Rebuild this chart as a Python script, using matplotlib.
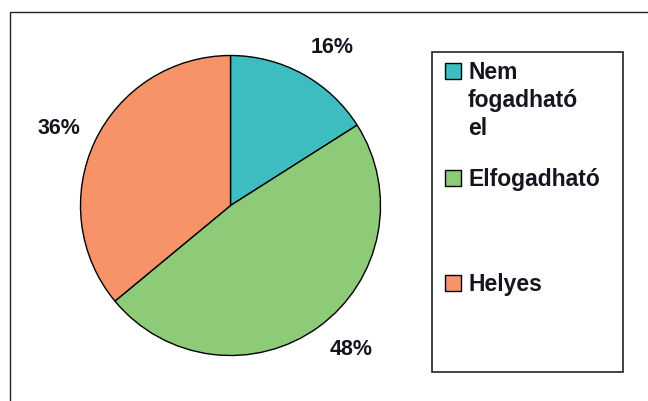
import numpy as np
import matplotlib
matplotlib.use("Agg")
import matplotlib.pyplot as plt
from matplotlib.patches import Rectangle

plt.rcParams['font.family'] = ['Liberation Sans', 'DejaVu Sans']

# megoszlás
labels = ['Nem\nfogadható\nel', 'Elfogadható', 'Helyes']
values = [16, 48, 36]
colors = ['#3dbdc0', '#8dcb78', '#f69368']

W, H = 648, 401
fig = plt.figure(figsize=(W / 100, H / 100), dpi=100)

# keret
fig.patches.append(Rectangle((10 / W, -0.1), 1.2, 1.1 - 12 / H,
                             transform=fig.transFigure, fill=False,
                             edgecolor='#222222', linewidth=1.0))

# kördiagram
r = 150
cx, cy = 230.5, 205.5
ax = fig.add_axes([(cx - r) / W, (H - cy - r) / H, 2 * r / W, 2 * r / H])
wedges, texts, autotexts = ax.pie(
    values, colors=colors, startangle=90, counterclock=False,
    autopct='%1.0f%%', pctdistance=1.25,
    wedgeprops=dict(edgecolor='black', linewidth=1.0),
    textprops=dict(fontsize=15.5, fontweight='bold', color='#151520'))
# címkék kicsit elforgatva a szelet közepéhez képest
shift = [-4, 4, 1]
for w, t, d in zip(wedges, autotexts, shift):
    a = np.deg2rad((w.theta1 + w.theta2) / 2 + d)
    t.set_position((1.255 * np.cos(a), 1.255 * np.sin(a)))
    t.set_va('center')
ax.set_xlim(-1, 1)
ax.set_ylim(-1, 1)
ax.set_aspect('auto')
ax.axis('off')

# jelmagyarázat
fig.patches.append(Rectangle((432 / W, 1 - 372 / H), (623 - 432) / W, (372 - 52) / H,
                             transform=fig.transFigure, fill=False,
                             edgecolor='#222222', linewidth=1.2))
marker_y = [63, 170, 275]
for lab, col, my in zip(labels, colors, marker_y):
    fig.patches.append(Rectangle((445 / W, 1 - (my + 16) / H), 16 / W, 16 / H,
                                 transform=fig.transFigure, facecolor=col,
                                 edgecolor='black', linewidth=1.0))
    fig.text(468 / W, 1 - (my - 2) / H, lab, fontsize=16.5, fontweight='bold',
             color='#151520', va='top', ha='left', linespacing=1.28)

fig.savefig('out.png', dpi=100)
